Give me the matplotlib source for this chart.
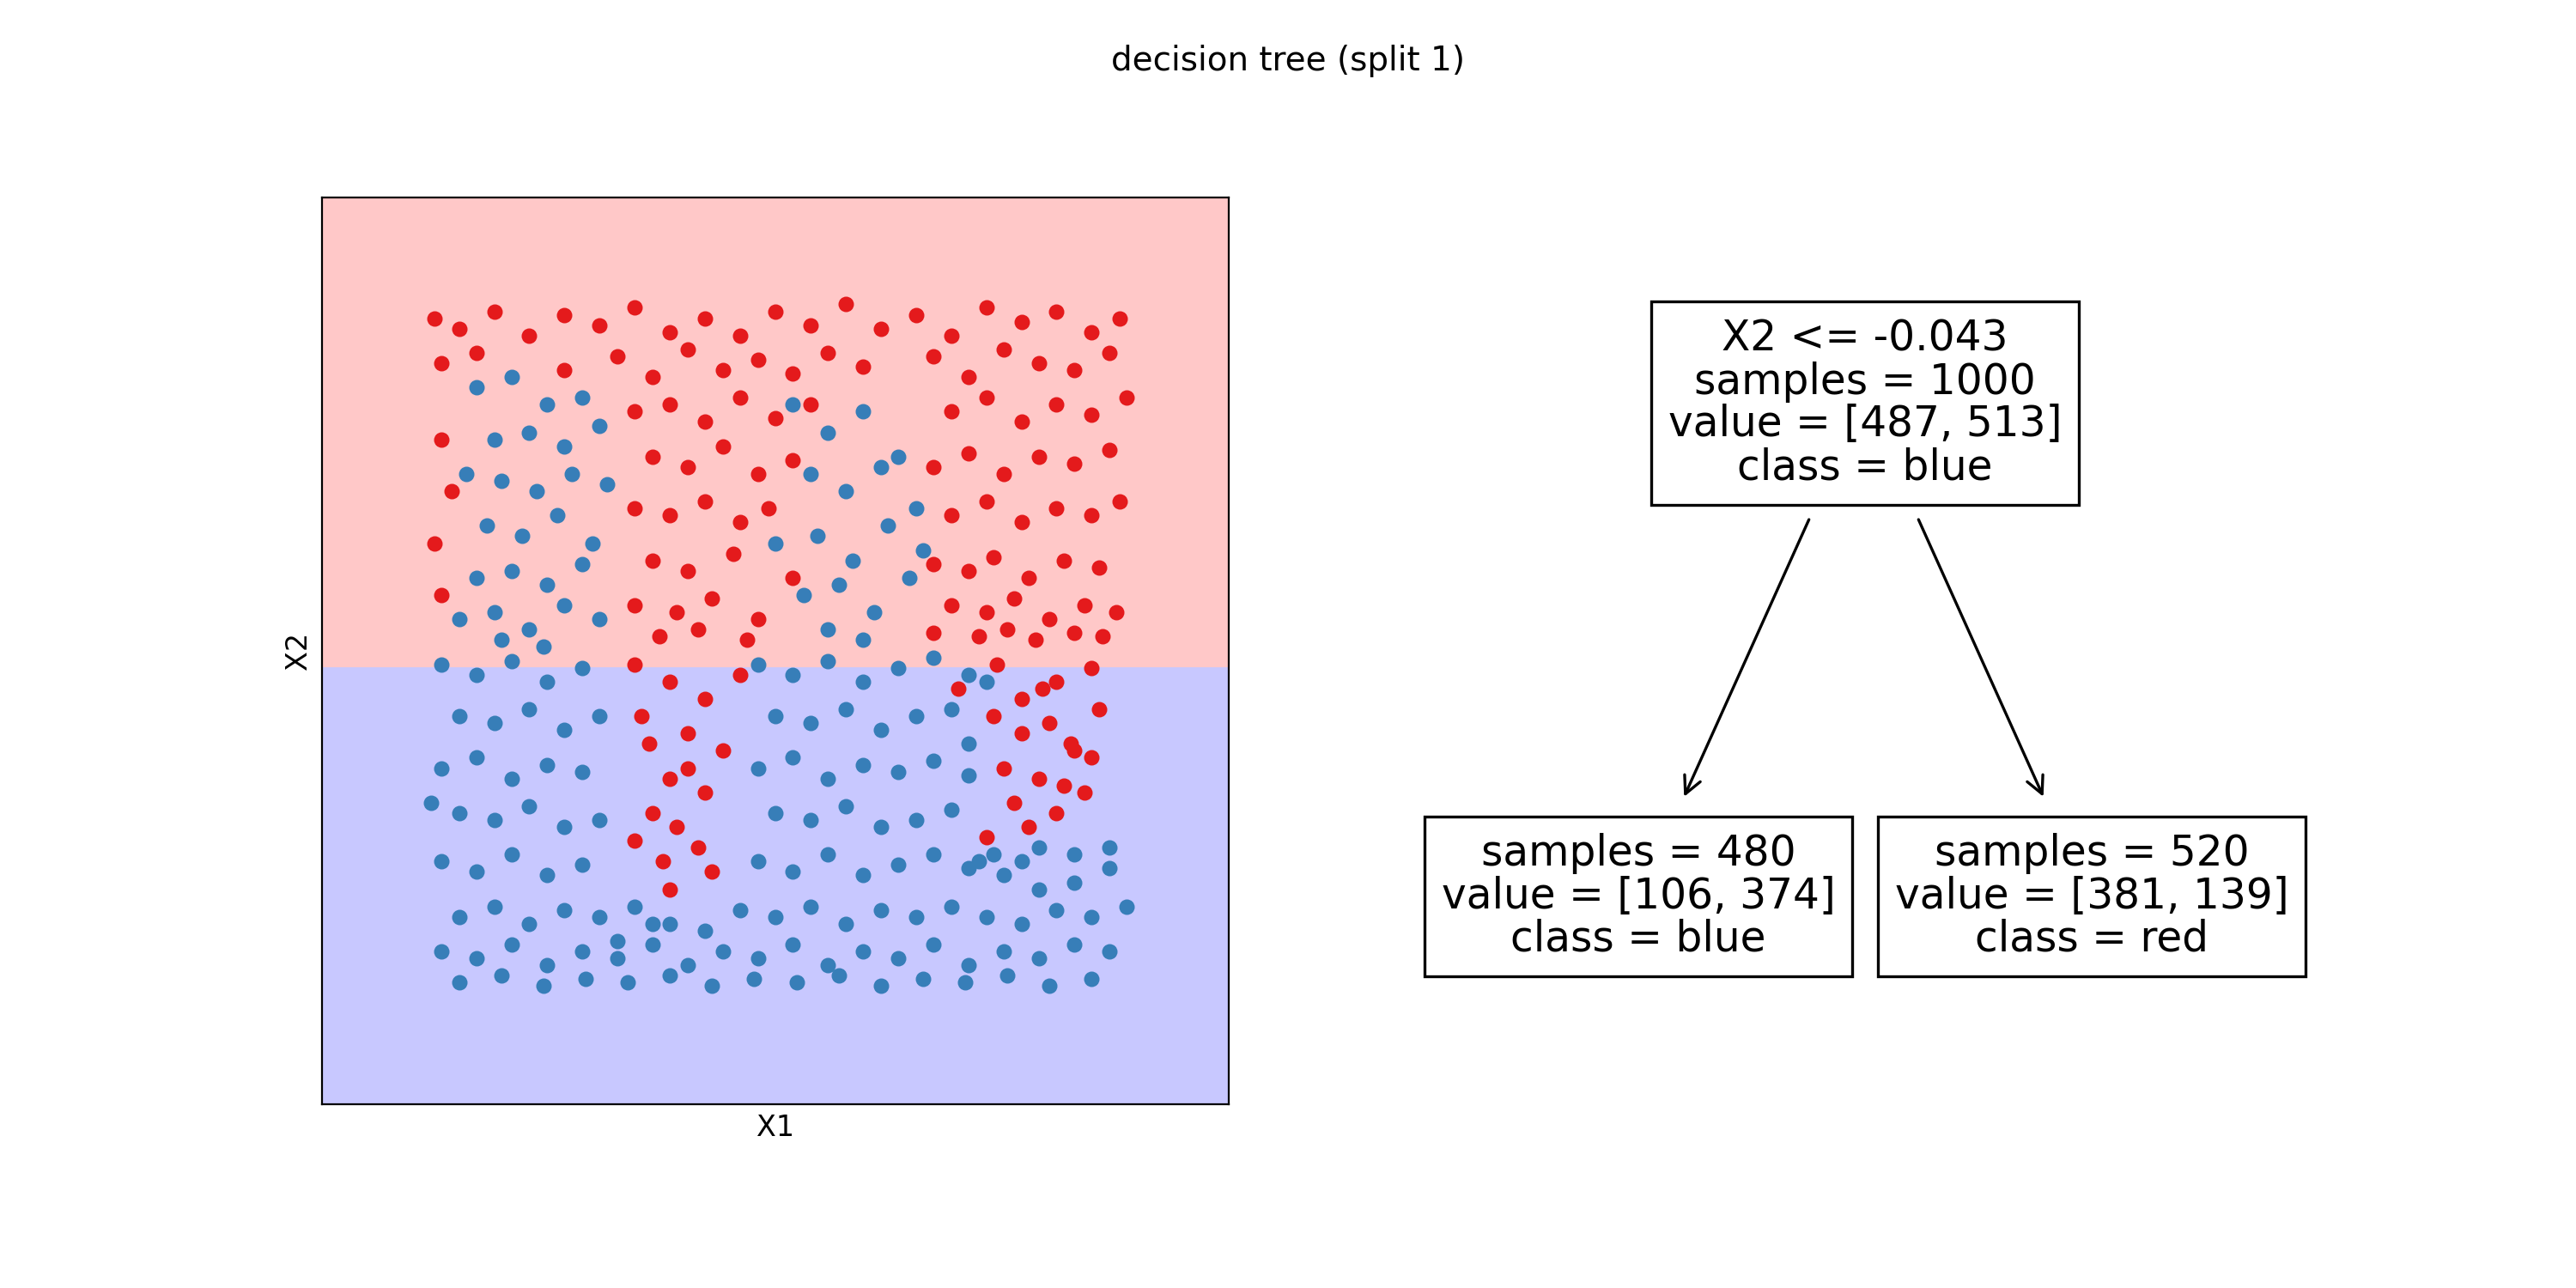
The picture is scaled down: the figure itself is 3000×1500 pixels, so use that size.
import matplotlib
matplotlib.use("Agg")
import matplotlib.pyplot as plt

red_x = [-0.97,-0.9,-0.8,-0.7,-0.6,-0.5,-0.4,-0.3,-0.2,-0.1,0.0,0.1,0.2,0.3,0.4,0.5,0.6,0.7,0.8,0.9,0.98,
         -0.95,-0.85,-0.6,-0.45,-0.35,-0.25,-0.15,-0.05,0.05,0.15,0.25,0.45,0.55,0.65,0.75,0.85,0.95,
         -0.4,-0.3,-0.2,-0.1,0.0,0.1,0.5,0.6,0.7,0.8,0.9,1.0,-0.95,
         -0.35,-0.25,-0.15,-0.05,0.05,0.45,0.55,0.65,0.75,0.85,0.95,-0.92,
         -0.4,-0.3,-0.2,-0.1,-0.02,0.5,0.6,0.7,0.8,0.9,0.98,-0.97,
         -0.35,-0.25,-0.12,0.05,0.45,0.55,0.62,0.72,0.82,0.92,
         -0.4,-0.28,-0.18,-0.05,0.5,0.6,0.68,0.78,0.88,0.97,-0.95,
         -0.33,-0.22,-0.08,0.45,0.58,0.66,0.74,0.85,0.93,
         -0.4,-0.3,-0.2,-0.1,0.52,0.63,0.7,0.8,0.9,
         -0.38,-0.25,-0.15,-0.3,-0.2,-0.35,-0.28,-0.4,-0.22,-0.32,-0.18,-0.3,-0.25,-0.36,
         0.62,0.7,0.78,0.85,0.92,0.65,0.75,0.82,0.9,0.68,0.8,0.88,0.72,0.84,0.6,0.76]
red_y = [0.95,0.92,0.97,0.9,0.96,0.93,0.98,0.91,0.95,0.9,0.97,0.93,0.99,0.92,0.96,0.9,0.98,0.94,0.97,0.91,0.95,
         0.82,0.85,0.8,0.84,0.78,0.86,0.8,0.83,0.79,0.85,0.81,0.84,0.78,0.86,0.82,0.8,0.85,
         0.68,0.7,0.65,0.72,0.66,0.7,0.68,0.72,0.65,0.7,0.67,0.72,0.6,
         0.55,0.52,0.58,0.5,0.54,0.52,0.56,0.5,0.55,0.53,0.57,0.45,
         0.4,0.38,0.42,0.36,0.4,0.38,0.42,0.36,0.4,0.38,0.42,0.3,
         0.25,0.22,0.27,0.2,0.24,0.22,0.26,0.2,0.25,0.23,
         0.12,0.1,0.14,0.08,0.12,0.1,0.14,0.08,0.12,0.1,0.15,
         0.03,0.05,0.02,0.04,0.03,0.05,0.02,0.04,0.03,
         -0.05,-0.1,-0.15,-0.08,-0.12,-0.05,-0.15,-0.1,-0.06,
         -0.2,-0.25,-0.3,-0.38,-0.42,-0.48,-0.52,-0.56,-0.58,-0.62,-0.65,-0.7,-0.35,-0.28,
         -0.2,-0.25,-0.22,-0.3,-0.18,-0.35,-0.38,-0.4,-0.32,-0.45,-0.48,-0.42,-0.52,-0.28,-0.55,-0.12]

blue_x = [-0.85,-0.75,-0.65,-0.55,-0.8,-0.7,-0.6,-0.5,-0.88,-0.78,-0.68,-0.58,-0.48,-0.82,-0.72,-0.62,-0.52,
          -0.85,-0.75,-0.65,-0.55,-0.9,-0.8,-0.7,-0.6,-0.5,-0.78,-0.66,
          0.05,0.15,0.25,0.35,0.1,0.2,0.3,0.4,0.0,0.12,0.22,0.32,0.42,0.08,0.18,0.28,0.38,0.15,0.25,
          -0.95,-0.85,-0.75,-0.65,-0.55,-0.05,0.05,0.15,0.25,0.35,0.45,0.55,
          -0.9,-0.8,-0.7,-0.6,-0.5,0.0,0.1,0.2,0.3,0.4,0.5,0.55,
          -0.95,-0.85,-0.75,-0.65,-0.55,-0.05,0.05,0.15,0.25,0.35,0.45,0.55,0.62,0.75,
          -0.9,-0.8,-0.7,-0.6,-0.5,0.0,0.1,0.2,0.3,0.4,0.5,0.58,0.7,0.85,0.95,
          -0.95,-0.85,-0.75,-0.65,-0.55,-0.45,-0.35,-0.05,0.05,0.15,0.25,0.35,0.45,0.55,0.65,0.75,0.85,0.95,
          -0.9,-0.8,-0.7,-0.6,-0.5,-0.4,-0.3,-0.2,-0.1,0.0,0.1,0.2,0.3,0.4,0.5,0.6,0.7,0.8,0.9,1.0,
          -0.95,-0.85,-0.75,-0.65,-0.55,-0.45,-0.35,-0.25,-0.15,-0.05,0.05,0.15,0.25,0.35,0.45,0.55,0.65,0.75,0.85,0.95,
          -0.9,-0.78,-0.66,-0.54,-0.42,-0.3,-0.18,-0.06,0.06,0.18,0.3,0.42,0.54,0.66,0.78,0.9,-0.98,0.6]
blue_y = [0.75,0.78,0.7,0.72,0.6,0.62,0.58,0.64,0.5,0.48,0.45,0.5,0.47,0.35,0.32,0.38,0.3,
          0.2,0.22,0.18,0.24,0.08,0.1,0.05,0.12,0.08,0.02,0.0,
          0.7,0.62,0.68,0.55,0.5,0.45,0.52,0.4,0.3,0.32,0.25,0.35,0.28,0.15,0.18,0.1,0.2,0.05,0.02,
          -0.05,-0.08,-0.04,-0.1,-0.06,-0.05,-0.08,-0.04,-0.1,-0.06,-0.03,-0.08,
          -0.2,-0.22,-0.18,-0.24,-0.2,-0.2,-0.22,-0.18,-0.24,-0.2,-0.18,-0.28,
          -0.35,-0.32,-0.38,-0.34,-0.36,-0.35,-0.32,-0.38,-0.34,-0.36,-0.33,-0.37,-0.6,-0.58,
          -0.48,-0.5,-0.46,-0.52,-0.5,-0.48,-0.5,-0.46,-0.52,-0.5,-0.47,-0.62,-0.62,-0.6,-0.58,
          -0.62,-0.65,-0.6,-0.66,-0.63,-0.85,-0.8,-0.62,-0.65,-0.6,-0.66,-0.63,-0.6,-0.64,-0.66,-0.7,-0.68,-0.64,
          -0.78,-0.75,-0.8,-0.76,-0.78,-0.75,-0.8,-0.82,-0.76,-0.78,-0.75,-0.8,-0.76,-0.78,-0.75,-0.78,-0.8,-0.76,-0.78,-0.75,
          -0.88,-0.9,-0.86,-0.92,-0.88,-0.9,-0.86,-0.92,-0.88,-0.9,-0.86,-0.92,-0.88,-0.9,-0.86,-0.92,-0.88,-0.9,-0.86,-0.88,
          -0.97,-0.95,-0.98,-0.96,-0.97,-0.95,-0.98,-0.96,-0.97,-0.95,-0.98,-0.96,-0.97,-0.95,-0.98,-0.96,-0.45,-0.1]

split = -0.06
node_texts = ["X2 <= -0.043\nsamples = 1000\nvalue = [487, 513]\nclass = blue",
              "samples = 480\nvalue = [106, 374]\nclass = blue",
              "samples = 520\nvalue = [381, 139]\nclass = red"]

fig = plt.figure(figsize=(15, 7.5), dpi=200)
fig.suptitle("decision tree (split 1)", fontsize=14, y=0.965)
ax = fig.add_axes([0.125, 0.143, 0.352, 0.704])
ax.set_xlim(-1.29, 1.29)
ax.set_ylim(-1.32, 1.30)
ax.axhspan(split, 1.30, color="#ffc8c8", zorder=0)
ax.axhspan(-1.32, split, color="#c8c8ff", zorder=0)
ax.scatter(red_x, red_y, s=30, color="#e41a1c", zorder=2)
ax.scatter(blue_x, blue_y, s=30, color="#377eb8", zorder=2)
ax.set_xticks([]); ax.set_yticks([])
ax.set_xlabel("X1", fontsize=12)
ax.set_ylabel("X2", fontsize=12)

bb = dict(boxstyle="square,pad=0.4", fc="white", ec="black", lw=1.2)
pos = [(0.724, 0.687), (0.636, 0.304), (0.812, 0.304)]
for (x, y), t in zip(pos, node_texts):
    fig.text(x, y, t, ha="center", va="center", fontsize=17.5, bbox=bb, linespacing=1.05)
for xe in [(0.703, 0.653), (0.744, 0.794)]:
    fig.add_artist(matplotlib.patches.FancyArrowPatch((xe[0], 0.600), (xe[1], 0.378),
                   transform=fig.transFigure, arrowstyle="->", mutation_scale=18, lw=1.2))
fig.savefig("out.png")
